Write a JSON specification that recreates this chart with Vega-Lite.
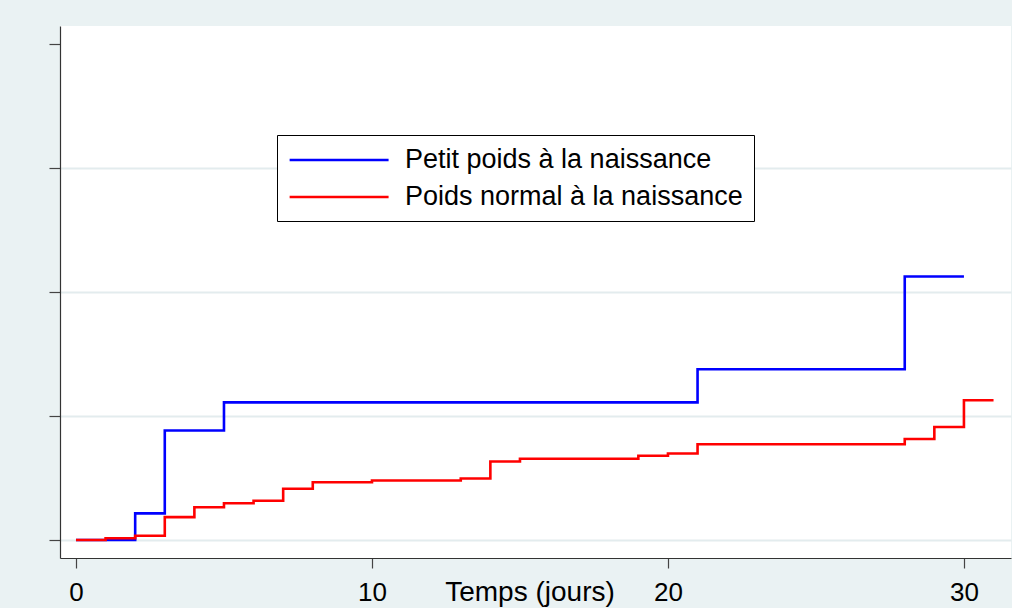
{
  "$schema": "https://vega.github.io/schema/vega-lite/v6.json",
  "width": 951,
  "height": 532,
  "autosize": "none",
  "padding": {"left": 60, "top": 26, "right": 1, "bottom": 50},
  "background": "#EAF2F3",
  "config": {
    "view": {"fill": "white", "stroke": null},
    "font": "Liberation Sans"
  },
  "data": {
    "values": [
      {"temps": 0, "echec": 0, "groupe": "Petit poids à la naissance"},
      {"temps": 2, "echec": 0.0215, "groupe": "Petit poids à la naissance"},
      {"temps": 3, "echec": 0.0883, "groupe": "Petit poids à la naissance"},
      {"temps": 5, "echec": 0.111, "groupe": "Petit poids à la naissance"},
      {"temps": 21, "echec": 0.1377, "groupe": "Petit poids à la naissance"},
      {"temps": 28, "echec": 0.2125, "groupe": "Petit poids à la naissance"},
      {"temps": 30, "echec": 0.2125, "groupe": "Petit poids à la naissance"},
      {"temps": 0, "echec": 0, "groupe": "Poids normal à la naissance"},
      {"temps": 1, "echec": 0.0014, "groupe": "Poids normal à la naissance"},
      {"temps": 2, "echec": 0.0035, "groupe": "Poids normal à la naissance"},
      {"temps": 3, "echec": 0.0185, "groupe": "Poids normal à la naissance"},
      {"temps": 4, "echec": 0.0264, "groupe": "Poids normal à la naissance"},
      {"temps": 5, "echec": 0.0296, "groupe": "Poids normal à la naissance"},
      {"temps": 6, "echec": 0.0317, "groupe": "Poids normal à la naissance"},
      {"temps": 7, "echec": 0.0414, "groupe": "Poids normal à la naissance"},
      {"temps": 8, "echec": 0.0466, "groupe": "Poids normal à la naissance"},
      {"temps": 10, "echec": 0.048, "groupe": "Poids normal à la naissance"},
      {"temps": 13, "echec": 0.0496, "groupe": "Poids normal à la naissance"},
      {"temps": 14, "echec": 0.0633, "groupe": "Poids normal à la naissance"},
      {"temps": 15, "echec": 0.0655, "groupe": "Poids normal à la naissance"},
      {"temps": 19, "echec": 0.068, "groupe": "Poids normal à la naissance"},
      {"temps": 20, "echec": 0.0698, "groupe": "Poids normal à la naissance"},
      {"temps": 21, "echec": 0.0772, "groupe": "Poids normal à la naissance"},
      {"temps": 28, "echec": 0.0815, "groupe": "Poids normal à la naissance"},
      {"temps": 29, "echec": 0.0911, "groupe": "Poids normal à la naissance"},
      {"temps": 30, "echec": 0.1127, "groupe": "Poids normal à la naissance"},
      {"temps": 31, "echec": 0.1127, "groupe": "Poids normal à la naissance"}
    ]
  },
  "mark": {"type": "line", "interpolate": "step-after", "strokeWidth": 2.6},
  "encoding": {
    "x": {
      "field": "temps",
      "type": "quantitative",
      "scale": {"domain": [-0.54, 31.59], "nice": false, "zero": false},
      "axis": {
        "values": [0, 10, 20, 30],
        "grid": false,
        "domainColor": "#333333",
        "domainWidth": 1.2,
        "tickColor": "#444444",
        "tickSize": 10,
        "tickWidth": 1.2,
        "labelFontSize": 26,
        "labelColor": "black",
        "labelPadding": 11,
        "labelFlush": false,
        "title": "Temps (jours)",
        "titleFontSize": 28,
        "titleFontWeight": "normal",
        "titleColor": "black",
        "titleX": 469.5,
        "titleY": 42,
        "titleBaseline": "alphabetic",
        "titleAlign": "center"
      }
    },
    "y": {
      "field": "echec",
      "type": "quantitative",
      "scale": {"domain": [-0.0145, 0.4145], "nice": false, "zero": false},
      "axis": {
        "values": [0, 0.1, 0.2, 0.3, 0.4],
        "labels": false,
        "title": null,
        "grid": true,
        "gridColor": {"condition": {"test": "datum.value > 0.35", "value": "transparent"}, "value": "#E3ECEE"},
        "gridWidth": 2,
        "domainColor": "#333333",
        "domainWidth": 1.2,
        "tickColor": "#444444",
        "tickSize": 11,
        "tickWidth": 1.2
      }
    },
    "color": {
      "field": "groupe",
      "type": "nominal",
      "scale": {
        "domain": ["Petit poids à la naissance", "Poids normal à la naissance"],
        "range": ["#0000FF", "#FF0000"]
      },
      "legend": {
        "orient": "none",
        "legendX": 217,
        "legendY": 109,
        "title": null,
        "strokeColor": "black",
        "fillColor": "white",
        "padding": 11,
        "symbolType": "M-1,0H7",
        "symbolSize": 612,
        "symbolStrokeWidth": 2.5,
        "labelFontSize": 27,
        "labelColor": "black",
        "labelOffset": 89,
        "rowPadding": 10,
        "labelLimit": 500
      }
    }
  }
}
